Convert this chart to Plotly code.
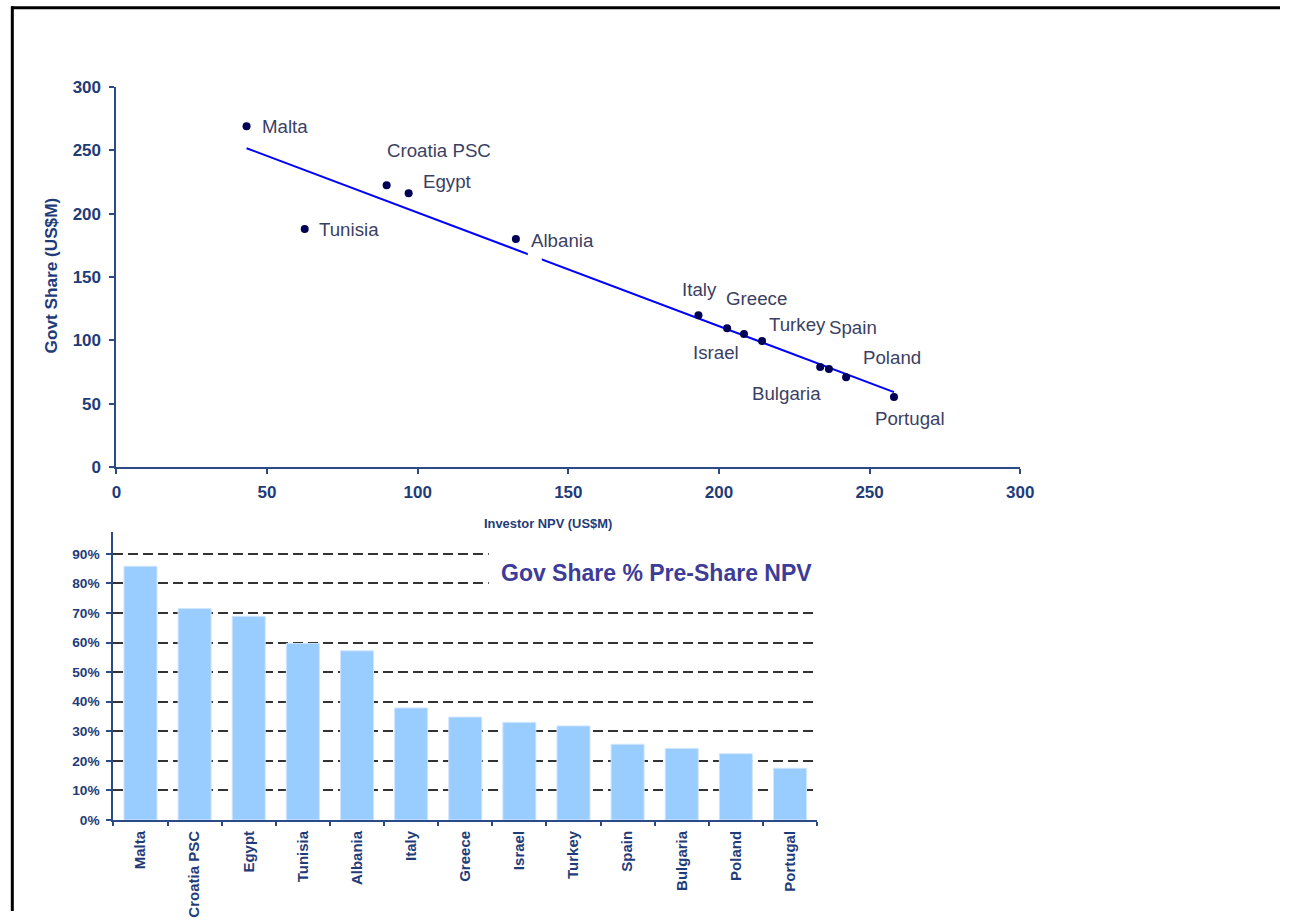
import numpy as np
import plotly.graph_objects as go

# ---- data ----
countries = ["Malta", "Croatia PSC", "Egypt", "Tunisia", "Albania", "Italy", "Greece",
             "Israel", "Turkey", "Spain", "Bulgaria", "Poland", "Portugal"]
investor_npv = [43.2, 89.7, 97.0, 62.5, 132.6, 193.2, 202.7, 208.3, 214.3, 233.6, 236.5, 242.2, 258.1]
govt_share = [269.2, 222.6, 216.3, 187.9, 180.0, 119.8, 109.7, 105.0, 99.5, 79.0, 77.4, 71.0, 55.3]
gov_share_pct = [0.858, 0.715, 0.689, 0.597, 0.572, 0.379, 0.348, 0.330, 0.318, 0.256, 0.242, 0.224, 0.175]

x_ticks = [0, 50, 100, 150, 200, 250, 300]
y_ticks = [0, 50, 100, 150, 200, 250, 300]
pct_ticks = [0, 0.1, 0.2, 0.3, 0.4, 0.5, 0.6, 0.7, 0.8, 0.9]

# label placement around each scatter point (pixels)
label_offsets = {
    "Malta": (13, 0, "left"), "Croatia PSC": (52, 34, "center"), "Egypt": (12, 11, "left"),
    "Tunisia": (12, 0, "left"), "Albania": (13, -1, "left"), "Italy": (1, 25, "center"),
    "Greece": (29, 29, "center"), "Israel": (-28, -18, "center"), "Turkey": (35, 16, "center"),
    "Spain": (32, 39, "center"), "Bulgaria": (-42, -24, "center"), "Poland": (45, 19, "center"),
    "Portugal": (16, -21, "center"),
}

W, H = 1294, 921
# page placement of the figure inside the viewer window
OX, SX, OY, SY = 4.7, 0.9844, 8.8, 0.9797


def px(s):
    """horizontal page pixel -> paper fraction"""
    return (s - OX) / SX / W


def py(s):
    """vertical page pixel (from top) -> paper fraction"""
    return 1 - (s - OY) / SY / H


AXIS = "#2b4a86"
TICKC = "#1f3c78"
LABELC = "#3b3f63"
FONT = "Arial, Liberation Sans, sans-serif"

fig = go.Figure()

# linear trend line through the scatter
slope, intercept = np.polyfit(investor_npv, govt_share, 1)
xfit = np.array([min(investor_npv), max(investor_npv)])
fig.add_trace(go.Scatter(x=xfit, y=slope * xfit + intercept, mode="lines",
                         line=dict(color="#0000ff", width=2), xaxis="x", yaxis="y",
                         hoverinfo="skip", showlegend=False))
fig.add_trace(go.Scatter(x=investor_npv, y=govt_share, mode="markers", text=countries,
                         marker=dict(color="#000055", size=8), xaxis="x", yaxis="y",
                         showlegend=False))

fig.add_trace(go.Bar(x=countries, y=gov_share_pct, xaxis="x2", yaxis="y2",
                     marker=dict(color="#99ccff", line=dict(color="#cfe6ff", width=1)),
                     showlegend=False))

annotations = []
for c, xv, yv in zip(countries, investor_npv, govt_share):
    dx, dy, anchor = label_offsets[c]
    annotations.append(dict(x=xv, y=yv, xref="x", yref="y", text=c, showarrow=False,
                            xshift=dx / SX, yshift=dy / SY, xanchor=anchor, yanchor="middle",
                            font=dict(family=FONT, size=18.7, color=LABELC)))

annotations += [
    dict(x=px(51), y=py(275), xref="paper", yref="paper", xanchor="center", yanchor="middle",
         text="<b>Govt Share (US$M)</b>", textangle=-90, showarrow=False,
         font=dict(family=FONT, size=17.2, color=TICKC)),
    dict(x=px(547), y=py(523), xref="paper", yref="paper", xanchor="center", yanchor="middle",
         text="<b>Investor NPV (US$M)</b>", showarrow=False,
         font=dict(family=FONT, size=12.9, color=TICKC)),
    dict(x=px(656), y=py(573), xref="paper", yref="paper", xanchor="center", yanchor="middle",
         text="<b>Gov Share % Pre-Share NPV</b>", showarrow=False,
         font=dict(family=FONT, size=23, color="#3d3d99")),
]

shapes = [
    # white panel behind the bar-chart title
    dict(type="rect", xref="paper", yref="paper", x0=px(488), x1=px(822),
         y0=py(598), y1=py(545), fillcolor="white", line=dict(width=0), layer="above"),
    # small white break in the trend line beside the Albania label
    dict(type="rect", xref="paper", yref="paper", x0=px(527), x1=px(541),
         y0=py(265), y1=py(252), fillcolor="white", line=dict(width=0), layer="above"),
    # page frame
    dict(type="line", xref="paper", yref="paper", x0=px(11), x1=1.0, y0=py(7.5), y1=py(7.5),
         line=dict(color="black", width=3)),
    dict(type="line", xref="paper", yref="paper", x0=px(12), x1=px(12), y0=0, y1=py(6),
         line=dict(color="black", width=3)),
]

tick_scatter = dict(family=FONT, size=17, color=TICKC, weight="bold")

fig.update_layout(
    width=W, height=H, margin=dict(l=0, r=0, t=0, b=0),
    paper_bgcolor="white", plot_bgcolor="white", bargap=0.39,
    font=dict(family=FONT, color=TICKC),
    xaxis=dict(domain=[px(116), px(1019)], anchor="y", range=[0, 300], tickvals=x_ticks,
               showgrid=False, zeroline=False, showline=True, linecolor=AXIS, linewidth=2,
               ticks="outside", ticklen=5, tickcolor=AXIS, tickwidth=2, tickfont=tick_scatter,
               ticklabelstandoff=4),
    yaxis=dict(domain=[py(467), py(87)], anchor="x", range=[0, 300], tickvals=y_ticks,
               showgrid=False, zeroline=False, showline=True, linecolor=AXIS, linewidth=2,
               ticks="outside", ticklen=5, tickcolor=AXIS, tickwidth=2, tickfont=tick_scatter,
               ticklabelstandoff=5),
    xaxis2=dict(domain=[px(113), px(816)], anchor="y2", showgrid=False, zeroline=False,
                showline=True, linecolor=AXIS, linewidth=2, ticks="outside", ticklen=4,
                tickcolor=AXIS, tickwidth=2, tickson="boundaries", tickangle=-90,
                ticklabelstandoff=3,
                tickfont=dict(family=FONT, size=15, color=TICKC, weight="bold")),
    yaxis2=dict(domain=[py(820), py(532)], anchor="x2", range=[0, 0.974],
                tickvals=pct_ticks, tickformat=".0%", showgrid=True, gridcolor="#333333",
                griddash="10px,5px", gridwidth=2, zeroline=False, showline=True, linecolor=AXIS,
                linewidth=2, ticks="outside", ticklen=5, tickcolor=AXIS, tickwidth=2,
                ticklabelstandoff=4,
                tickfont=dict(family=FONT, size=13.7, color=TICKC, weight="bold")),
    annotations=annotations, shapes=shapes,
)

fig.write_html("out.html")
